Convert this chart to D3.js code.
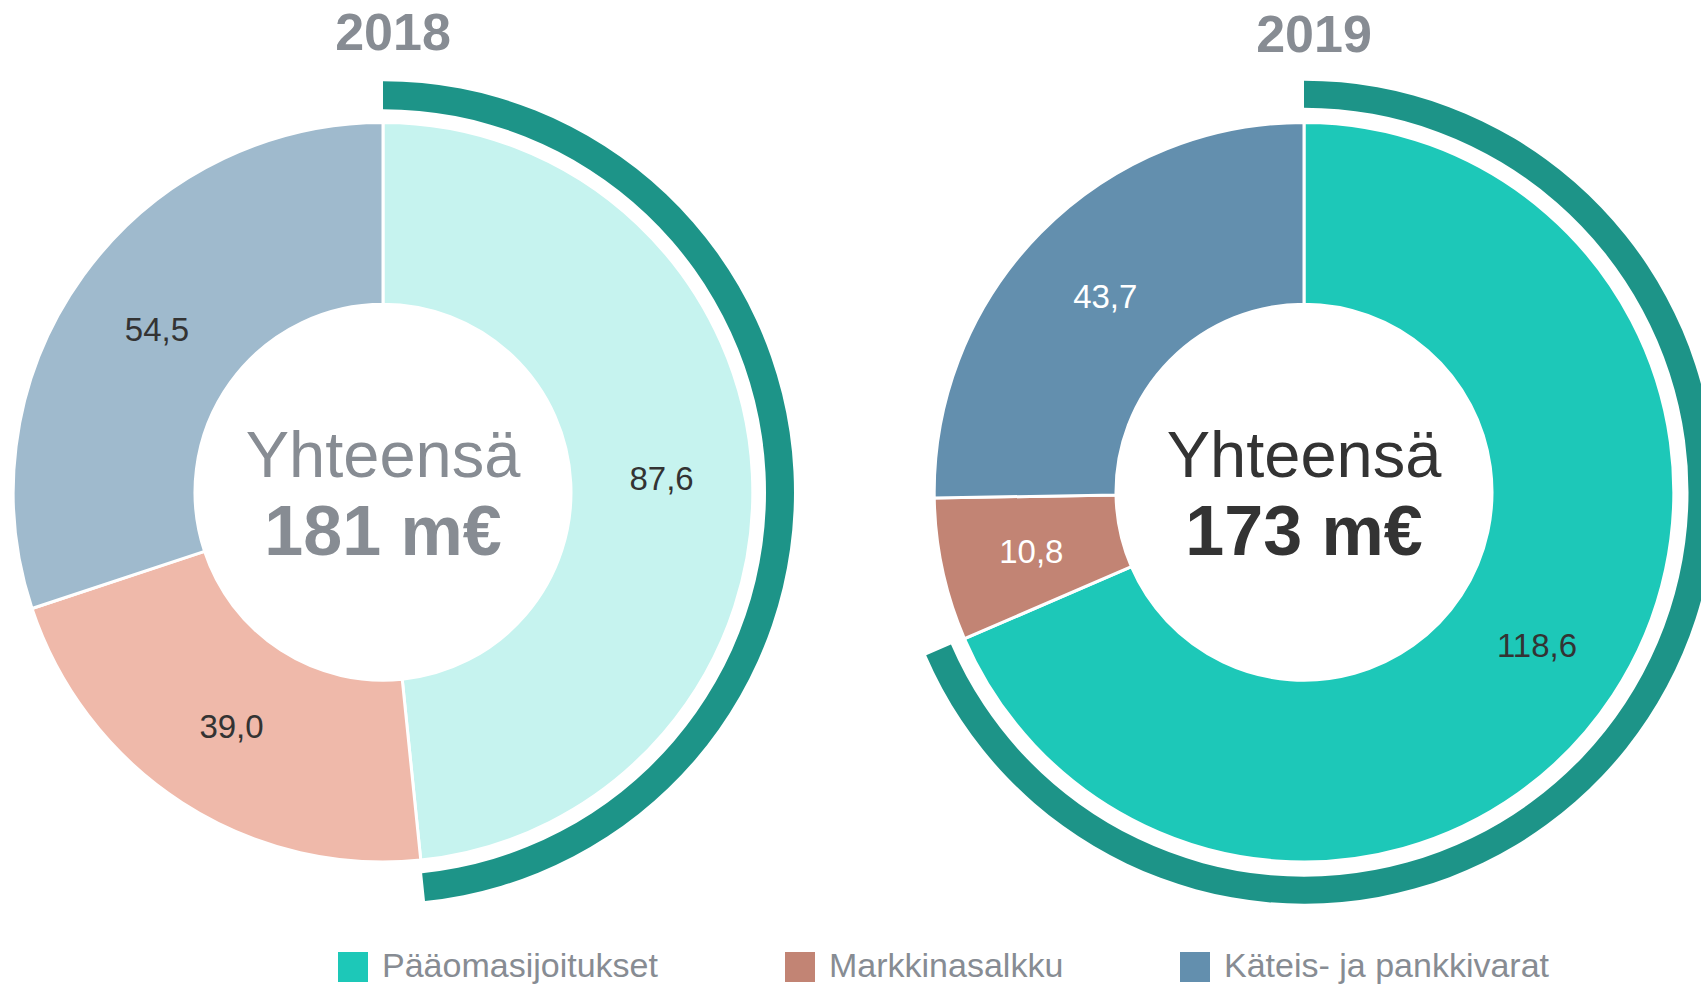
<!DOCTYPE html>
<html>
<head>
<meta charset="utf-8">
<script src="https://cdn.jsdelivr.net/npm/d3@7"></script>
<style>
  html, body { margin: 0; padding: 0; background: #ffffff; }
  svg { display: block; }
  text { font-family: "Liberation Sans", Arial, sans-serif; }
</style>
</head>
<body>
<svg id="chart" width="1701" height="984"></svg>
<script>
// ---- data ----
const categories = ["Pääomasijoitukset", "Markkinasalkku", "Käteis- ja pankkivarat"];
const years = ["2018", "2019"];
const values2018 = [87.6, 39.0, 54.5];
const values2019 = [118.6, 10.8, 43.7];
const totalLabels = ["181 m€", "173 m€"];
const centerWord = "Yhteensä";

// ---- styles ----
const legendColors = ["#1dc8b8", "#c28474", "#638fae"];
const colors2018 = ["#c6f3ef", "#efb9aa", "#9fbacd"];
const colors2019 = ["#1dc8b8", "#c28474", "#638fae"];
const labelColors2018 = ["#333333", "#333333", "#333333"];
const labelColors2019 = ["#333333", "#ffffff", "#ffffff"];
const centerColors = ["#878c93", "#333333"];
const ringColor = "#1d9488";
const titleColor = "#878c93";

const fiLocale = d3.formatLocale({decimal: ",", thousands: "\u00a0", grouping: [3], currency: ["", " €"]});
const fmt = fiLocale.format(".1f");

const svg = d3.select("#chart");
svg.append("rect").attr("width", 1701).attr("height", 984).attr("fill", "#fff");

const panels = [
  {year: years[0], values: values2018, colors: colors2018, labelColors: labelColors2018,
   total: totalLabels[0], centerColor: centerColors[0], cx: 383, cy: 492.2,
   ringIn: 383, ringOut: 411, titleY: 49.5},
  {year: years[1], values: values2019, colors: colors2019, labelColors: labelColors2019,
   total: totalLabels[1], centerColor: centerColors[1], cx: 1304, cy: 492.2,
   ringIn: 384.5, ringOut: 411.5, titleY: 51.5}
];

const innerR = 188, outerR = 369.8;
const pie = d3.pie().sort(null).value(d => d.value);
const arc = d3.arc().innerRadius(innerR).outerRadius(outerR);

panels.forEach(p => {
  const g = svg.append("g").attr("transform", `translate(${p.cx},${p.cy})`);
  const data = categories.map((c, i) => ({cat: c, value: p.values[i], i}));
  const arcs = pie(data);

  // outer highlight ring over the first category (Pääomasijoitukset)
  const ringArc = d3.arc().innerRadius(p.ringIn).outerRadius(p.ringOut);
  g.append("path")
    .attr("d", ringArc({startAngle: arcs[0].startAngle, endAngle: arcs[0].endAngle}))
    .attr("fill", ringColor);

  g.selectAll("path.slice").data(arcs).join("path")
    .attr("class", "slice")
    .attr("d", arc)
    .attr("fill", d => p.colors[d.data.i])
    .attr("stroke", "#ffffff")
    .attr("stroke-width", 3)
    .attr("stroke-linejoin", "miter");

  g.selectAll("text.val").data(arcs).join("text")
    .attr("class", "val")
    .attr("transform", d => `translate(${arc.centroid(d)})`)
    .attr("text-anchor", "middle")
    .attr("dy", "0.36em")
    .attr("font-size", 33)
    .attr("fill", d => p.labelColors[d.data.i])
    .text(d => fmt(d.value));

  g.append("text")
    .attr("x", 0).attr("y", 477 - p.cy)
    .attr("text-anchor", "middle")
    .attr("font-size", 65)
    .attr("fill", p.centerColor)
    .text(centerWord);

  g.append("text")
    .attr("x", 0).attr("y", 555 - p.cy)
    .attr("text-anchor", "middle")
    .attr("font-size", 70)
    .attr("font-weight", "bold")
    .attr("fill", p.centerColor)
    .text(p.total);

  svg.append("text")
    .attr("x", p.cx + 10).attr("y", p.titleY)
    .attr("text-anchor", "middle")
    .attr("font-size", 52)
    .attr("font-weight", "bold")
    .attr("fill", titleColor)
    .text(p.year);
});

// ---- legend ----
const legendX = [338, 785, 1180];
const legend = svg.append("g");
categories.forEach((c, i) => {
  const lg = legend.append("g").attr("transform", `translate(${legendX[i]},${952})`);
  lg.append("rect").attr("width", 30).attr("height", 30).attr("fill", legendColors[i]);
  lg.append("text").attr("x", 44).attr("y", 25)
    .attr("font-size", 34).attr("fill", "#878c93").text(c);
});
</script>
</body>
</html>
